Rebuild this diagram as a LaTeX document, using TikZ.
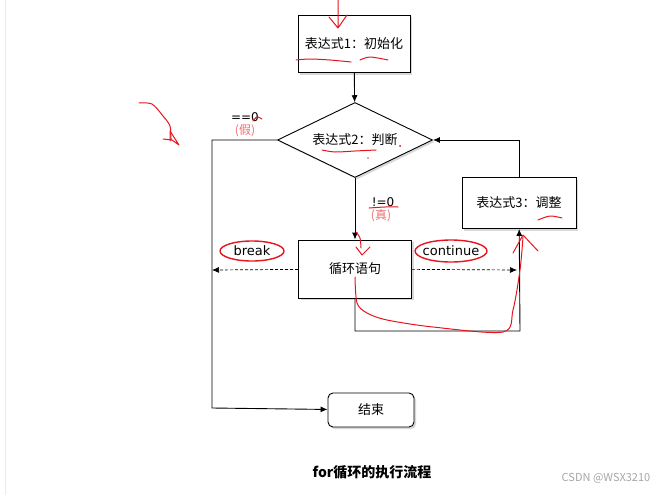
\documentclass[tikz,border=0pt]{standalone}
\usepackage{fontspec}
\setmainfont{Noto Sans CJK SC}
\newfontfamily\latinsf{DejaVu Sans}
\usetikzlibrary{arrows.meta,shapes.geometric,shadows}
\definecolor{pen}{RGB}{230,20,30}
\definecolor{lightpen}{RGB}{240,110,110}
\tikzset{
  box/.style={draw, line width=0.9pt, fill=white, inner sep=0pt,
    drop shadow={shadow xshift=2pt, shadow yshift=-2pt, fill=black!30},
    font=\fontsize{13}{15}\selectfont},
  arr/.style={line width=0.9pt, -{Latex[length=7pt,width=6pt]}},
  darr/.style={line width=0.7pt, dash pattern=on 3pt off 2pt, -{Latex[length=7pt,width=6pt]}},
  tag/.style={font=\fontsize{12}{14}\selectfont, inner sep=1pt},
  hand/.style={pen, line width=1pt, line cap=round, line join=round},
}
\begin{document}
\begin{tikzpicture}[x=1pt, y=-1pt]
  \useasboundingbox (0,0) rectangle (666,495);
  \draw[black!8, line width=0.8pt] (5,0) -- (5,495); % screenshot edge
  % boxes
  \node[box, minimum width=112pt, minimum height=57pt] (init) at (354,44) {表达式1：初始化};
  \node[box, diamond, aspect=2, minimum width=155pt, minimum height=75pt] (test) at (355,140) {表达式2：判断};
  \node[box, minimum width=113pt, minimum height=58pt] (body) at (355,269) {循环语句};
  \node[box, minimum width=114pt, minimum height=51pt] (step3) at (519,203) {表达式3：调整};
  \node[box, rounded corners=5pt, minimum width=86pt, minimum height=34pt] (stop) at (371,410) {结束};
  \coordinate (lc) at (212,408);
  \coordinate (rc) at (520,331);
  \coordinate (bk) at (212,270);
  \coordinate (ct) at (517,270);
  % connectors
  \draw[arr] (init) -- (test);
  \draw[arr] (test.west) -| (lc) -- (stop);
  \draw[arr] (test) -- (body);
  \draw[arr] (body.south) |- (rc) -- (step3);
  \draw[arr] (step3.north) |- (test.east);
  \draw[darr] (body) -- (bk);
  \draw[darr] (body) -- (ct);
  % labels
  \node[tag, font=\latinsf\fontsize{12}{14}\selectfont] (no) at (245,117) {==0};
  \node[tag, lightpen] (false) at (245,131) {(假)};
  \node[tag, font=\latinsf\fontsize{12}{14}\selectfont] (yes) at (383,202) {!=0};
  \node[tag, lightpen] (true) at (381,216) {(真)};
  \node[tag, font=\latinsf\fontsize{13}{15}\selectfont] (brk) at (252,251) {break};
  \node[tag, font=\latinsf\fontsize{13}{15}\selectfont] (cnt) at (451,251) {continue};
  \node[font=\fontsize{14}{16}\selectfont\bfseries] (title) at (372,472) {for循环的执行流程};
  \node[black!35, font=\fontsize{11}{13}\selectfont] (mark) at (606,478) {CSDN @WSX3210};
  % red pen notes
  \draw[hand, line width=1.4pt] (brk) ellipse (32pt and 10pt);
  \draw[hand, line width=1.4pt] (cnt) ellipse (36pt and 11pt);
  \draw[hand] (338,0) -- (338,27) (329,17) -- (338,28) -- (347,15);
  \draw[hand] plot[smooth] coordinates {(296,60) (310,59) (330,60) (351,62)};
  \draw[hand] plot[smooth] coordinates {(360,60) (370,57) (388,60)};
  \draw[hand] plot[smooth] coordinates {(322,150) (335,152) (355,151) (376,150)};
  \draw[hand] (400,146) circle (0.4pt) (368,158) circle (0.3pt);
  \draw[hand] plot[smooth] coordinates {(253,121) (257,117) (262,119)};
  \draw[hand] plot[smooth] coordinates {(369,208) (385,207) (398,207)};
  \draw[hand] plot[smooth] coordinates {(538,220) (550,216) (562,218)};
  \draw[hand] plot[smooth] coordinates {(139,103) (152,104) (163,116) (170,126) (171,140)};
  \draw[hand] (163,139) -- (172,140) -- (179,145) -- (170,131) -- (170,141);
  \draw[hand] plot[smooth] coordinates {(356,232) (360,238) (361,248)};
  \draw[hand] (356,247) -- (362,255) -- (370,247);
  \draw[hand] plot[smooth] coordinates {(355,277) (357,303) (367,313) (387,320) (433,327) (503,332) (513,310) (520,270) (523,237)};
  \draw[hand] (513,253) -- (523,235) -- (538,251);
\end{tikzpicture}
\end{document}
